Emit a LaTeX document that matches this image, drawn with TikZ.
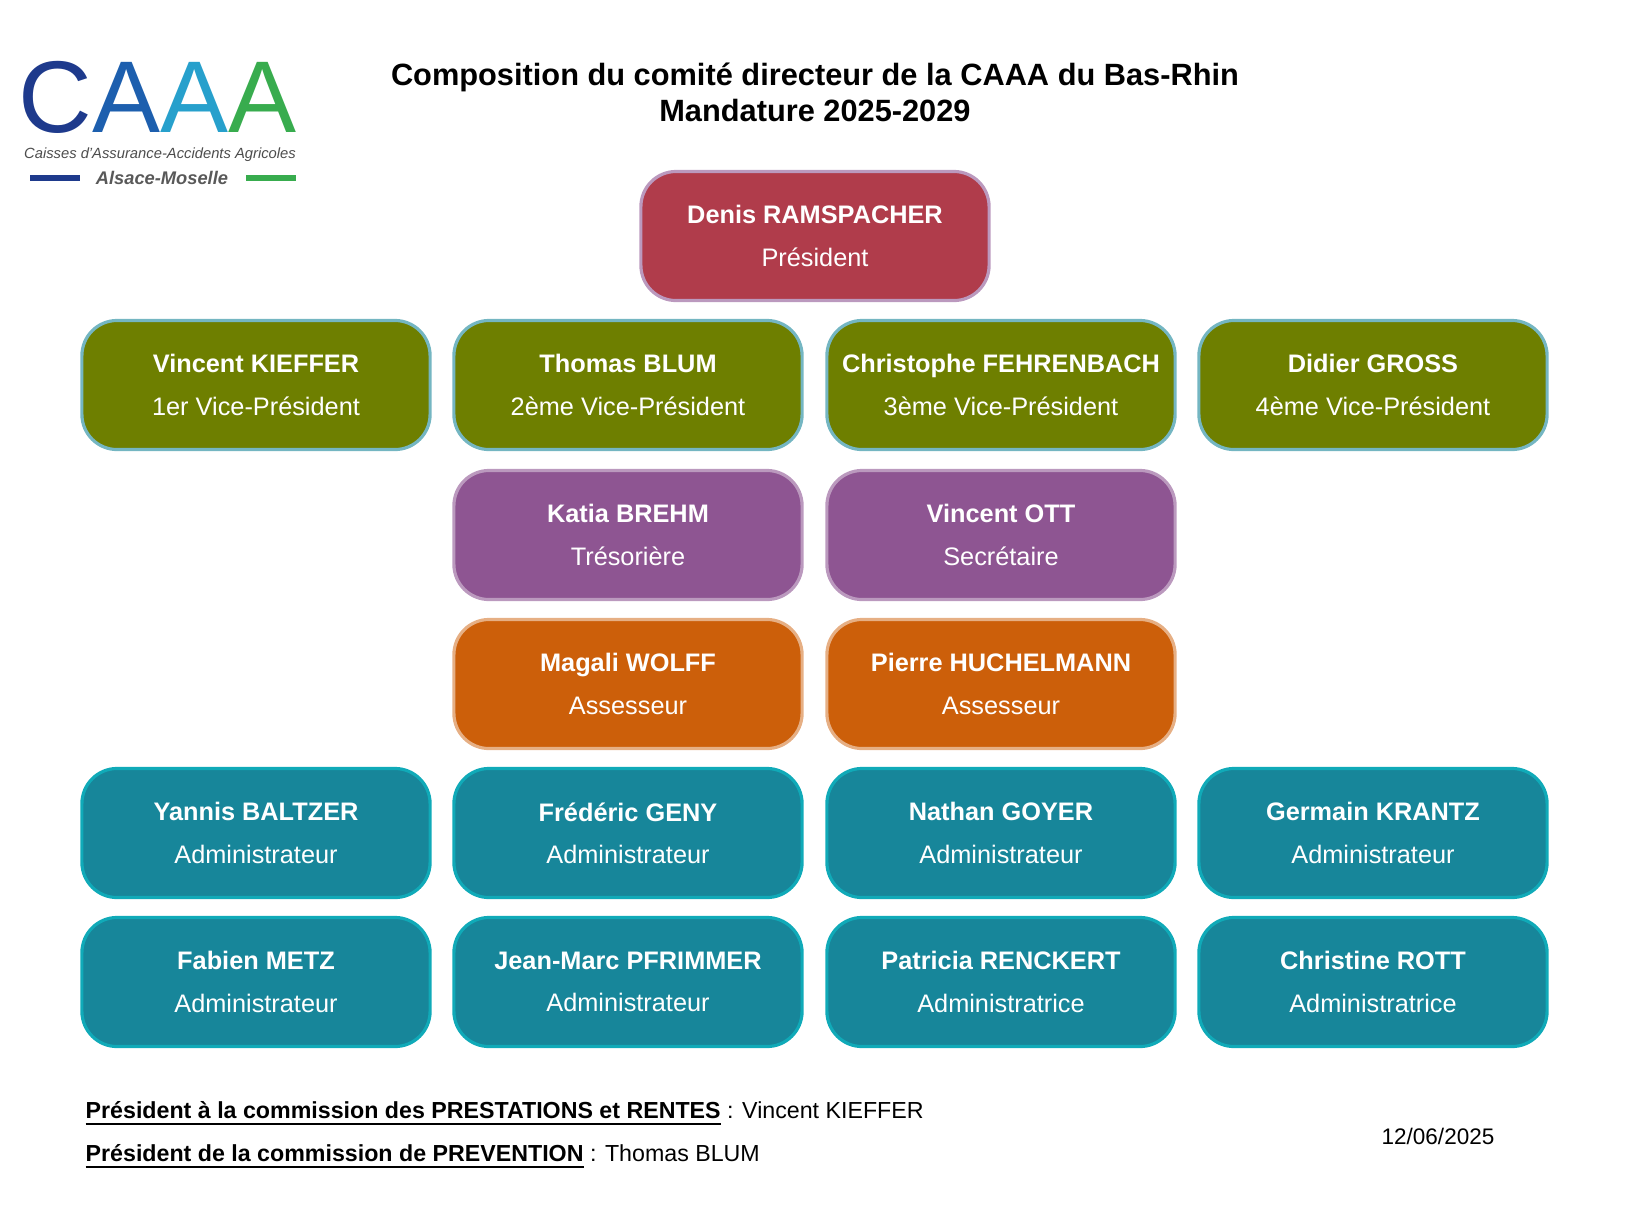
\documentclass[tikz,border=0pt]{standalone}
\usepackage{fontspec}
\setmainfont{Liberation Sans}
\usetikzlibrary{positioning}
\definecolor{presred}{HTML}{B03C4B}
\definecolor{vpgreen}{HTML}{6E7F00}
\definecolor{bureaupurple}{HTML}{8E5592}
\definecolor{assorange}{HTML}{CC5F0A}
\definecolor{adminteal}{HTML}{17869A}
\definecolor{logoA}{HTML}{1E3A8C}
\definecolor{logoB}{HTML}{1D5FAE}
\definecolor{logoC}{HTML}{27A0CC}
\definecolor{logoD}{HTML}{38AC4E}
\tikzset{
  member/.style={rounded corners=10pt, minimum width=3.48cm, minimum height=1.29cm,
    text=white, align=center, font=\fontsize{7.2}{12}\selectfont, line width=0.9pt},
  pres/.style={member, fill=presred, draw=bureaupurple!60},
  vp/.style={member, fill=vpgreen, draw=adminteal!60},
  bureau/.style={member, fill=bureaupurple, draw=bureaupurple!60!white},
  ass/.style={member, fill=assorange, draw=assorange!50!white},
  admin/.style={member, fill=adminteal, draw=adminteal!70!cyan}
}
\newcommand{\person}[2]{\textbf{#1}\\#2}
\begin{document}
\begin{tikzpicture}[x=0.01cm,y=-0.01cm]
   \useasboundingbox (0,0) rectangle (1626,1217);
   % logo
   \node[anchor=base west, inner sep=0pt, text depth=0pt, font=\fontsize{29}{29}\selectfont] (logo) at (18,132)
     {\textcolor{logoA}{C}\textcolor{logoB}{A}\textcolor{logoC}{A}\textcolor{logoD}{A}};
   \node[font=\fontsize{4.2}{5}\selectfont\itshape, text=black!70, inner sep=0pt] (logosub) at (160,155) {Caisses d'Assurance-Accidents Agricoles};
   \node[font=\fontsize{5.2}{6}\selectfont\itshape\bfseries, text=black!65, inner sep=0pt] (logoregion) at (162,178) {Alsace-Moselle};
   \draw[line width=1.6pt, logoA] (30,178) -- (80,178);
   \draw[line width=1.6pt, logoD] (246,178) -- (296,178);
   % title
   \node[align=center, font=\fontsize{8.75}{10.3}\selectfont\bfseries] (title) at (815,92)
     {Composition du comité directeur de la CAAA du Bas-Rhin\\Mandature 2025-2029};
   % boxes
   \node[pres] (ramspacher) at (815,236) {\person{Denis RAMSPACHER}{Président}};
   \node[vp] (kieffer) at (256,385) {\person{Vincent KIEFFER}{1er Vice-Président}};
   \node[vp] (blum) at (628,385) {\person{Thomas BLUM}{2ème Vice-Président}};
   \node[vp] (fehrenbach) at (1001,385) {\person{Christophe FEHRENBACH}{3ème Vice-Président}};
   \node[vp] (gross) at (1373,385) {\person{Didier GROSS}{4ème Vice-Président}};
   \node[bureau] (brehm) at (628,535) {\person{Katia BREHM}{Trésorière}};
   \node[bureau] (ott) at (1001,535) {\person{Vincent OTT}{Secrétaire}};
   \node[ass] (wolff) at (628,684) {\person{Magali WOLFF}{Assesseur}};
   \node[ass] (huchelmann) at (1001,684) {\person{Pierre HUCHELMANN}{Assesseur}};
   \node[admin] (baltzer) at (256,833) {\person{Yannis BALTZER}{Administrateur}};
   \node[admin] (geny) at (628,833) {\person{Frédéric GENY}{Administrateur}};
   \node[admin] (goyer) at (1001,833) {\person{Nathan GOYER}{Administrateur}};
   \node[admin] (krantz) at (1373,833) {\person{Germain KRANTZ}{Administrateur}};
   \node[admin] (metz) at (256,982) {\person{Fabien METZ}{Administrateur}};
   \node[admin] (pfrimmer) at (628,982) {\person{Jean-Marc PFRIMMER}{Administrateur}};
   \node[admin] (renckert) at (1001,982) {\person{Patricia RENCKERT}{Administratrice}};
   \node[admin] (rott) at (1373,982) {\person{Christine ROTT}{Administratrice}};
   % footer
   \node[anchor=west, inner sep=0pt, font=\fontsize{6.6}{8}\selectfont] (prestations) at (85,1114)
     {\underline{\textbf{Président à la commission des PRESTATIONS et RENTES}} : Vincent KIEFFER};
   \node[anchor=west, inner sep=0pt, font=\fontsize{6.6}{8}\selectfont] (prevention) at (85,1157)
     {\underline{\textbf{Président de la commission de PREVENTION}} : Thomas BLUM};
   \node[inner sep=0pt, font=\fontsize{6.4}{8}\selectfont] (date) at (1438,1136) {12/06/2025};
\end{tikzpicture}
\end{document}
